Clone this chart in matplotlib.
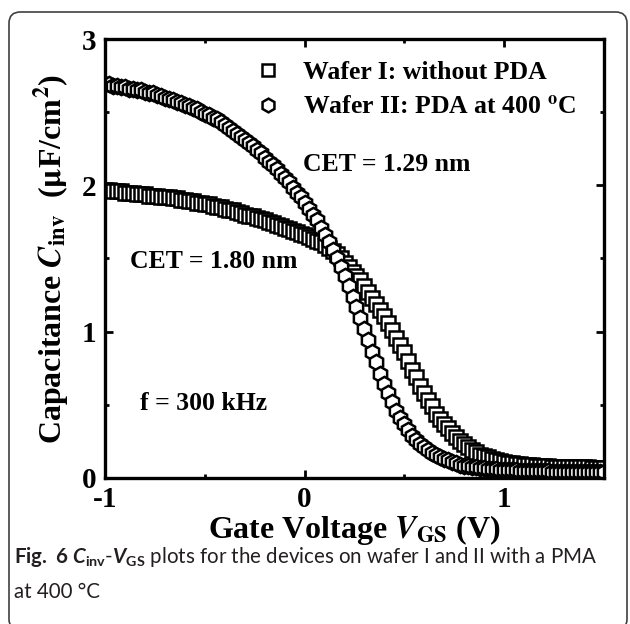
import numpy as np
import matplotlib
matplotlib.use('Agg')
import matplotlib.pyplot as plt
from matplotlib.patches import FancyBboxPatch

# Gate voltage sweep (V), 20 mV step
vgs = [-1.00, -0.98, -0.96, -0.94, -0.92, -0.90, -0.88, -0.86, -0.84, -0.82,
       -0.80, -0.78, -0.76, -0.74, -0.72, -0.70, -0.68, -0.66, -0.64, -0.62,
       -0.60, -0.58, -0.56, -0.54, -0.52, -0.50, -0.48, -0.46, -0.44, -0.42,
       -0.40, -0.38, -0.36, -0.34, -0.32, -0.30, -0.28, -0.26, -0.24, -0.22,
       -0.20, -0.18, -0.16, -0.14, -0.12, -0.10, -0.08, -0.06, -0.04, -0.02,
       0.00, 0.02, 0.04, 0.06, 0.08, 0.10, 0.12, 0.14, 0.16, 0.18,
       0.20, 0.22, 0.24, 0.26, 0.28, 0.30, 0.32, 0.34, 0.36, 0.38,
       0.40, 0.42, 0.44, 0.46, 0.48, 0.50, 0.52, 0.54, 0.56, 0.58,
       0.60, 0.62, 0.64, 0.66, 0.68, 0.70, 0.72, 0.74, 0.76, 0.78,
       0.80, 0.82, 0.84, 0.86, 0.88, 0.90, 0.92, 0.94, 0.96, 0.98,
       1.00, 1.02, 1.04, 1.06, 1.08, 1.10, 1.12, 1.14, 1.16, 1.18,
       1.20, 1.22, 1.24, 1.26, 1.28, 1.30, 1.32, 1.34, 1.36, 1.38,
       1.40, 1.42, 1.44, 1.46, 1.48, 1.50]

# Wafer I: without PDA  (uF/cm^2)
c_wafer1 = [1.97, 1.97, 1.96, 1.96, 1.96, 1.95, 1.95, 1.95, 1.94, 1.94,
            1.94, 1.93, 1.93, 1.93, 1.92, 1.92, 1.92, 1.91, 1.91, 1.90,
            1.90, 1.89, 1.89, 1.88, 1.88, 1.87, 1.87, 1.86, 1.85, 1.85,
            1.84, 1.83, 1.83, 1.82, 1.81, 1.80, 1.79, 1.79, 1.78, 1.77,
            1.76, 1.75, 1.74, 1.73, 1.72, 1.71, 1.70, 1.69, 1.68, 1.67,
            1.66, 1.65, 1.63, 1.62, 1.61, 1.59, 1.57, 1.55, 1.53, 1.50,
            1.47, 1.44, 1.41, 1.38, 1.35, 1.31, 1.27, 1.23, 1.19, 1.15,
            1.11, 1.06, 1.01, 0.96, 0.91, 0.86, 0.80, 0.74, 0.69, 0.63,
            0.58, 0.53, 0.49, 0.44, 0.40, 0.37, 0.34, 0.31, 0.28, 0.25,
            0.23, 0.21, 0.19, 0.18, 0.16, 0.15, 0.14, 0.13, 0.12, 0.115,
            0.110, 0.105, 0.100, 0.097, 0.094, 0.091, 0.088, 0.086, 0.084, 0.082,
            0.080, 0.079, 0.078, 0.077, 0.076, 0.075, 0.074, 0.074, 0.073, 0.073,
            0.072, 0.072, 0.071, 0.071, 0.070, 0.070]

# Wafer II: PDA at 400 C  (uF/cm^2)
c_wafer2 = [2.69, 2.69, 2.68, 2.68, 2.67, 2.67, 2.66, 2.66, 2.65, 2.65,
            2.64, 2.63, 2.63, 2.62, 2.61, 2.60, 2.59, 2.58, 2.57, 2.56,
            2.55, 2.54, 2.53, 2.52, 2.50, 2.49, 2.48, 2.46, 2.45, 2.43,
            2.41, 2.39, 2.37, 2.35, 2.33, 2.31, 2.29, 2.27, 2.24, 2.22,
            2.19, 2.16, 2.14, 2.11, 2.08, 2.05, 2.02, 1.98, 1.95, 1.92,
            1.88, 1.84, 1.80, 1.76, 1.71, 1.66, 1.61, 1.56, 1.50, 1.44,
            1.38, 1.31, 1.24, 1.17, 1.09, 1.02, 0.94, 0.86, 0.79, 0.71,
            0.64, 0.58, 0.52, 0.46, 0.41, 0.37, 0.33, 0.29, 0.26, 0.23,
            0.21, 0.19, 0.17, 0.155, 0.14, 0.13, 0.12, 0.11, 0.10, 0.092,
            0.085, 0.080, 0.076, 0.072, 0.068, 0.065, 0.063, 0.061, 0.059, 0.057,
            0.055, 0.054, 0.053, 0.052, 0.051, 0.050, 0.049, 0.048, 0.047, 0.046,
            0.045, 0.045, 0.044, 0.044, 0.043, 0.043, 0.042, 0.042, 0.042, 0.041,
            0.041, 0.041, 0.040, 0.040, 0.040, 0.040]

labels = ['Wafer I: without PDA', r'Wafer II: PDA at 400 $^{\mathbf{o}}$C']

plt.rcParams['font.family'] = 'Liberation Serif'
plt.rcParams['font.weight'] = 'bold'
plt.rcParams['axes.labelweight'] = 'bold'
plt.rcParams['mathtext.fontset'] = 'custom'
plt.rcParams['mathtext.rm'] = 'Lato'
plt.rcParams['mathtext.it'] = 'Lato:italic'
plt.rcParams['mathtext.bf'] = 'Lato:bold'

fig = plt.figure(figsize=(6.3, 6.24), dpi=100)
ax = fig.add_axes([0.1667, 0.234, 0.792, 0.7035])

ax.plot(vgs, c_wafer1, ls='none', marker='s', ms=10, mfc='white', mec='black',
        mew=1.8, label=labels[0])
ax.plot(vgs, c_wafer2, ls='none', marker='h', ms=11, mfc='white', mec='black',
        mew=1.8, label=labels[1])

ax.set_xlim(-1, 1.5)
ax.set_ylim(0, 3)
ax.set_xticks([-1, 0, 1])
ax.set_xticks([-0.5, 0.5, 1.5], minor=True)
ax.set_yticks([0, 1, 2, 3])
ax.set_yticks([0.5, 1.5, 2.5], minor=True)
ax.tick_params(which='both', direction='in', top=True, right=True, width=2)
ax.tick_params(which='major', length=6, labelsize=21)
ax.tick_params(axis='x', which='major', pad=6)
ax.tick_params(axis='y', which='major', pad=6)
ax.tick_params(which='minor', length=3)
ax.set_xticklabels(['-1', '0', '1'])
for sp in ax.spines.values():
    sp.set_linewidth(2.4)

ax.set_xlabel(r'Gate Voltage $\mathbfit{V}_{\mathbf{GS}}$ (V)', fontsize=23,
              fontweight='bold', math_fontfamily='stix', labelpad=0)
ax.set_ylabel(r'Capacitance $\mathbfit{C}_{\mathbf{inv}}$  ($\mathbf{\mu}$F/cm$^{\mathbf{2}}$)',
              fontsize=23, fontweight='bold', math_fontfamily='stix', labelpad=7)

leg = ax.legend(loc='upper left', bbox_to_anchor=(0.265, 0.99), frameon=False,
                fontsize=18.5, handlelength=1.0, handletextpad=0.85,
                labelspacing=0.45, numpoints=1, borderaxespad=0.3,
                markerscale=0.9)
for t in leg.get_texts():
    t.set_math_fontfamily('stix')

ax.text(-0.01, 2.14, 'CET = 1.29 nm', fontsize=18.5, va='center')
ax.text(-0.875, 1.48, 'CET = 1.80 nm', fontsize=18.5, va='center')
ax.text(-0.825, 0.51, 'f = 300 kHz', fontsize=18.5, va='center')

# rounded frame around the figure panel
frame = FancyBboxPatch((9 / 630, -0.01), 618 / 630, 1 - 12 / 624 + 0.01,
                       boxstyle='round,pad=0,rounding_size=0.018',
                       transform=fig.transFigure, fill=False,
                       ec='#404040', lw=1.2)
fig.add_artist(frame)

fig.text(14 / 630, 1 - 563 / 624,
         r'$\mathbf{Fig.\ 6}$ $\mathit{C}_{\mathrm{inv}}$-$\mathit{V}_{\mathrm{GS}}$'
         ' plots for the devices on wafer I and II with a PMA',
         family='Lato', weight='normal', fontsize=14.8, color='#231f20',
         math_fontfamily='custom', va='baseline')
fig.text(14 / 630, 1 - 598 / 624, 'at 400 \u00b0C', family='Lato',
         weight='normal', fontsize=14.8, color='#231f20', va='baseline')

fig.savefig('out.png', dpi=100)
